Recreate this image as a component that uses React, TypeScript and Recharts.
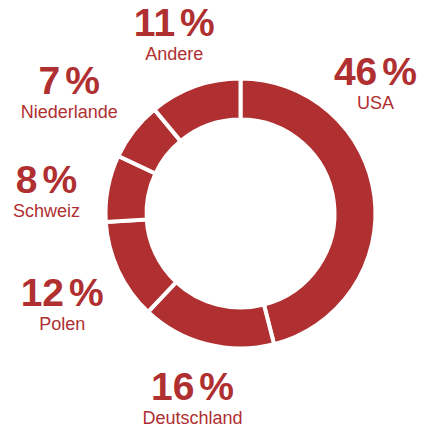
import { PieChart, Pie, Cell } from 'recharts';

const countries = ['USA', 'Deutschland', 'Polen', 'Schweiz', 'Niederlande', 'Andere'];
const shares = [46, 16, 12, 8, 7, 11];

const RED = '#b02f31';
const FONT = '"Liberation Sans", Arial, Helvetica, sans-serif';
const RAD = Math.PI / 180;

const data = countries.map((name, i) => ({ name, value: shares[i] }));

// labels sit roughly on the slice's mid angle; a few get nudged to fit the frame
const labelTweaks: Record<string, { angle?: number; r?: number }> = {
  USA: { angle: 43.5, r: 186 },
  Deutschland: { r: 193 },
  Polen: { angle: -152.5, r: 201 },
  Schweiz: { angle: 174, r: 195 },
  Niederlande: { angle: 145, r: 209 },
  Andere: { angle: 110.5, r: 189 },
};

function renderLabel(props: any) {
  const { cx, cy, midAngle, name, value } = props;
  const tweak = labelTweaks[name] || {};
  const angle = tweak.angle ?? midAngle;
  const r = tweak.r ?? 193;
  const x = cx + r * Math.cos(-angle * RAD);
  const y = cy + r * Math.sin(-angle * RAD);
  return (
    <g>
      <text
        x={x}
        y={y}
        textAnchor="middle"
        fill={RED}
        style={{ fontFamily: FONT, fontSize: 39, fontWeight: 700 }}
      >
        {value}
        <tspan dx={5}>%</tspan>
      </text>
      <text
        x={x}
        y={y + 24}
        textAnchor="middle"
        fill={RED}
        style={{ fontFamily: FONT, fontSize: 18 }}
      >
        {name}
      </text>
    </g>
  );
}

export default function App() {
  return (
    <div style={{ position: 'absolute', left: 0, top: 0 }}>
      <PieChart width={425} height={430} margin={{ top: 0, right: 0, bottom: 0, left: 0 }}>
        <Pie
          data={data}
          dataKey="value"
          nameKey="name"
          cx={240.5}
          cy={213.5}
          innerRadius={94}
          outerRadius={135}
          startAngle={90}
          endAngle={-270}
          stroke="#fff"
          strokeWidth={4}
          label={renderLabel}
          labelLine={false}
          isAnimationActive={false}
        >
          {data.map((d) => (
            <Cell key={d.name} fill={RED} />
          ))}
        </Pie>
      </PieChart>
    </div>
  );
}
